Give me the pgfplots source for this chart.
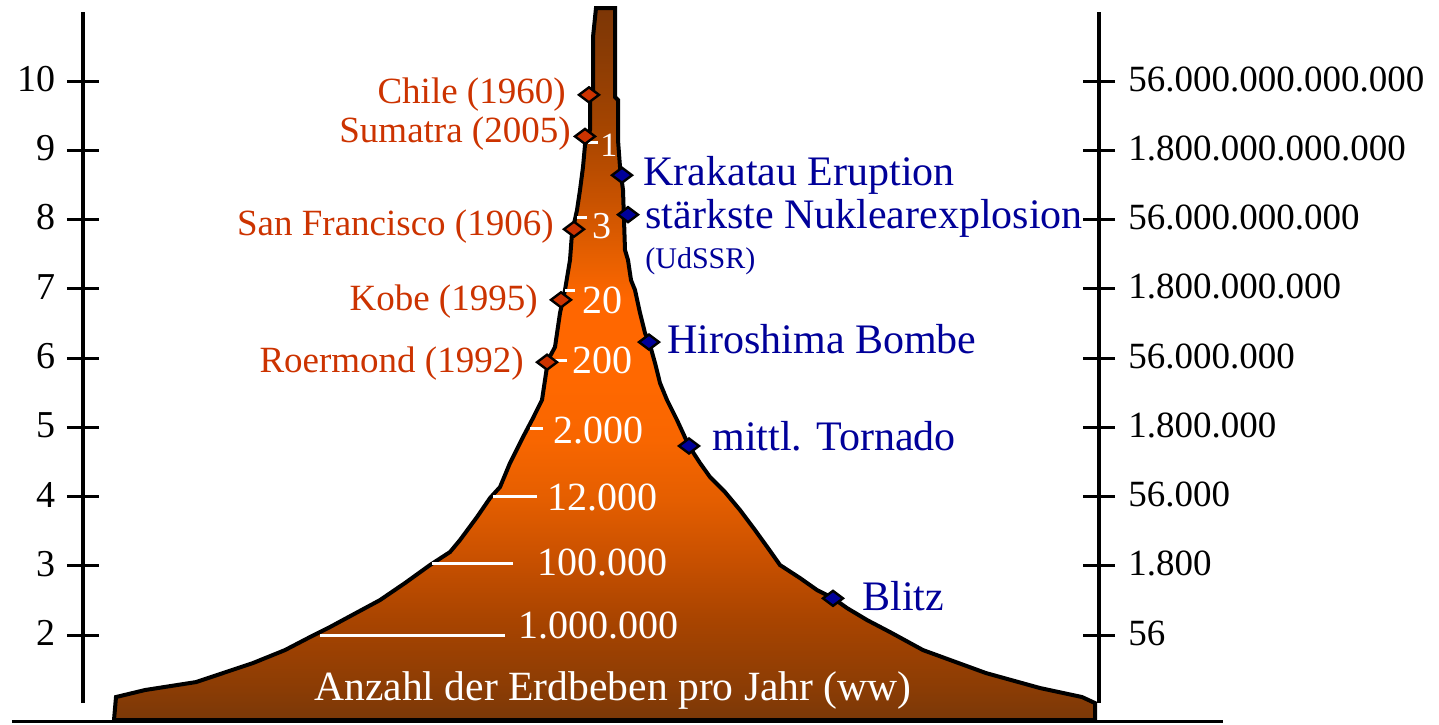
\documentclass[border=0pt]{standalone}
\usepackage{pgfplots}
\pgfplotsset{compat=1.18}
\usepackage{fontspec}
\setmainfont{Liberation Serif}
\definecolor{qred}{HTML}{CC3300}
\definecolor{qblue}{HTML}{000099}
\definecolor{s0}{HTML}{7A3808}
\definecolor{s1}{HTML}{8A3C05}
\definecolor{s2}{HTML}{A84400}
\definecolor{s3}{HTML}{C85000}
\definecolor{s4}{HTML}{E45E00}
\definecolor{s5}{HTML}{F86600}
\definecolor{s6}{HTML}{FF6800}
\definecolor{s7}{HTML}{FF6600}
\definecolor{s8}{HTML}{E86000}
\definecolor{s9}{HTML}{C85200}
\definecolor{s10}{HTML}{A64500}
\definecolor{s11}{HTML}{8C3C04}
\definecolor{s12}{HTML}{7C3606}
\pgfdeclareverticalshading{quake}{100bp}{color(0bp)=(s0); color(25bp)=(s0); color(27.1bp)=(s1); color(32bp)=(s2); color(36.25bp)=(s3); color(40.45bp)=(s4); color(44.65bp)=(s5); color(48.9bp)=(s6); color(54.5bp)=(s7); color(57.3bp)=(s8); color(61.5bp)=(s9); color(66.45bp)=(s10); color(71.35bp)=(s11); color(75bp)=(s12); color(100bp)=(s12)}
\newcommand{\rf}{\fontsize{18.5}{20}\selectfont}
\newcommand{\bfn}{\fontsize{21}{23}\selectfont}
\newcommand{\wf}{\fontsize{20}{22}\selectfont}

\pgfplotstableread{
x m
114 0.773
116 1.105
145 1.206
196 1.321
253 1.596
285 1.783
310 1.971
330 2.116
380 2.505
405 2.751
430 3.011
450 3.199
460 3.372
477 3.704
490 3.978
500 4.137
510 4.484
523 4.859
532 5.105
542 5.394
548 5.971
555 6.159
560 6.650
565 6.982
570 7.415
572 7.805
577 8.137
580 8.426
583 8.758
585 9.076
590 9.292
590 9.726
593 9.769
593 10.635
596 11.054
615 11.054
615 9.769
618 9.726
618 9.148
620 8.758
623 8.426
625 7.560
628 7.415
631 7.126
635 6.982
640 6.650
645 6.361
650 6.188
655 5.928
660 5.639
667 5.394
677 5.105
689 4.729
700 4.484
710 4.282
725 4.065
740 3.805
755 3.516
768 3.256
780 3.011
800 2.823
817 2.650
833 2.534
847 2.390
867 2.217
890 2.043
923 1.783
986 1.451
1040 1.235
1082 1.105
1095 1.018
1095 0.773
}\shape

\pgfplotstableread{
x m
589 9.80
585 9.20
574 7.86
561 6.84
547 5.94
}\quakes

\pgfplotstableread{
x m
622 8.64
628 8.07
649 6.23
689 4.73
833 2.53
}\energy

\begin{document}
\begin{tikzpicture}
\begin{axis}[
  scale only axis, width=508pt, height=345.5pt,
  xmin=83, xmax=1099, ymin=1.018, ymax=10.996,
  axis x line=none, axis y line*=left,
  clip=false,
  ytick={2,3,4,5,6,7,8,9,10},
  yticklabels={2,3,4,5,6,7,8,9,10},
  major tick length=16pt, tick align=center,
  tick style={black, line width=1.5pt},
  axis line style={black, line width=2pt},
  yticklabel style={font=\fontsize{19}{20}\selectfont, anchor=east, inner sep=0pt, xshift=-5.5pt, yshift=1pt},
]
\addplot[draw=black, line width=2pt, shade, shading=quake] table[x=x,y=m] {\shape} -- cycle;
\addplot[black, line width=1.5pt] coordinates {(12,0.758) (1223,0.758)};
% white guide lines
\addplot[white, line width=1.5pt] coordinates {(588,9.119) (598,9.119)};
\addplot[white, line width=1.5pt] coordinates {(577,8.022) (587,8.022)};
\addplot[white, line width=1.5pt] coordinates {(565,6.982) (575,6.982)};
\addplot[white, line width=1.5pt] coordinates {(553,5.971) (567,5.971)};
\addplot[white, line width=1.5pt] coordinates {(530,4.989) (543,4.989)};
\addplot[white, line width=1.5pt] coordinates {(493,4.007) (537,4.007)};
\addplot[white, line width=1.5pt] coordinates {(432,3.040) (513,3.040)};
\addplot[white, line width=1.5pt] coordinates {(320,2.000) (505,2.000)};
% white numbers
\node[white, anchor=base west, inner sep=0pt, font=\fontsize{17}{18}\selectfont] at (axis cs:600,8.903) {1};
\node[white, anchor=base west, inner sep=0pt, font=\fontsize{19}{20}\selectfont] at (axis cs:592,7.733) {3};
\node[white, anchor=base west, inner sep=0pt, font=\wf] at (axis cs:582,6.650) {20};
\node[white, anchor=base west, inner sep=0pt, font=\wf] at (axis cs:572,5.783) {200};
\node[white, anchor=base west, inner sep=0pt, font=\wf] at (axis cs:553,4.773) {2.000};
\node[white, anchor=base west, inner sep=0pt, font=\wf] at (axis cs:547,3.805) {12.000};
\node[white, anchor=base west, inner sep=0pt, font=\wf] at (axis cs:537,2.867) {100.000};
\node[white, anchor=base west, inner sep=0pt, font=\wf] at (axis cs:518,1.957) {1.000.000};
\node[white, anchor=base, inner sep=0pt, font=\fontsize{20.8}{22}\selectfont] at (axis cs:613,1.061) {Anzahl der Erdbeben pro Jahr (ww)};
% markers
\addplot[only marks, mark=diamond*, mark size=5pt, mark options={rotate=90, draw=black, fill=qred, line width=1.2pt}] table[x=x,y=m] {\quakes};
\addplot[only marks, mark=diamond*, mark size=5pt, mark options={rotate=90, draw=black, fill=qblue, line width=1.2pt}] table[x=x,y=m] {\energy};
% red labels
\node[qred, anchor=base east, inner sep=0pt, font=\rf] at (axis cs:566,9.682) {Chile (1960)};
\node[qred, anchor=base east, inner sep=0pt, font=\rf] at (axis cs:571,9.119) {Sumatra (2005)};
\node[qred, anchor=base east, inner sep=0pt, font=\rf] at (axis cs:554,7.776) {San Francisco (1906)};
\node[qred, anchor=base east, inner sep=0pt, font=\rf] at (axis cs:538,6.693) {Kobe (1995)};
\node[qred, anchor=base east, inner sep=0pt, font=\rf] at (axis cs:524,5.798) {Roermond (1992)};
% blue labels
\node[qblue, anchor=base west, inner sep=0pt, font=\bfn] at (axis cs:643,8.498) {Krakatau Eruption};
\node[qblue, anchor=base west, inner sep=0pt, font=\bfn] at (axis cs:645,7.877) {stärkste Nuklearexplosion};
\node[qblue, anchor=base west, inner sep=0pt, font=\fontsize{15}{16}\selectfont] at (axis cs:645,7.300) {(UdSSR)};
\node[qblue, anchor=base west, inner sep=0pt, font=\bfn] at (axis cs:667,6.072) {Hiroshima Bombe};
\node[qblue, anchor=base west, inner sep=0pt, font=\bfn] at (axis cs:712,4.671) {mittl. Tornado};
\node[qblue, anchor=base west, inner sep=0pt, font=\bfn] at (axis cs:862,2.361) {Blitz};
\coordinate (BL) at (axis cs:0,0.715);
\coordinate (TR) at (axis cs:1439,11.170);
\end{axis}
\begin{axis}[
  scale only axis, width=508pt, height=345.5pt,
  xmin=83, xmax=1099, ymin=1.018, ymax=10.996,
  axis x line=none, axis y line*=right,
  clip=false,
  ytick={2,3,4,5,6,7,8,9,10},
  yticklabels={56,1.800,56.000,1.800.000,56.000.000,1.800.000.000,56.000.000.000,1.800.000.000.000,56.000.000.000.000},
  major tick length=16pt, tick align=center,
  tick style={black, line width=1.5pt},
  axis line style={black, line width=2pt},
  yticklabel style={font=\fontsize{18.5}{20}\selectfont, anchor=west, inner sep=0pt, xshift=6.5pt, yshift=1pt},
]
\end{axis}
\pgfresetboundingbox
\path (BL) rectangle (TR);
\end{tikzpicture}
\end{document}
